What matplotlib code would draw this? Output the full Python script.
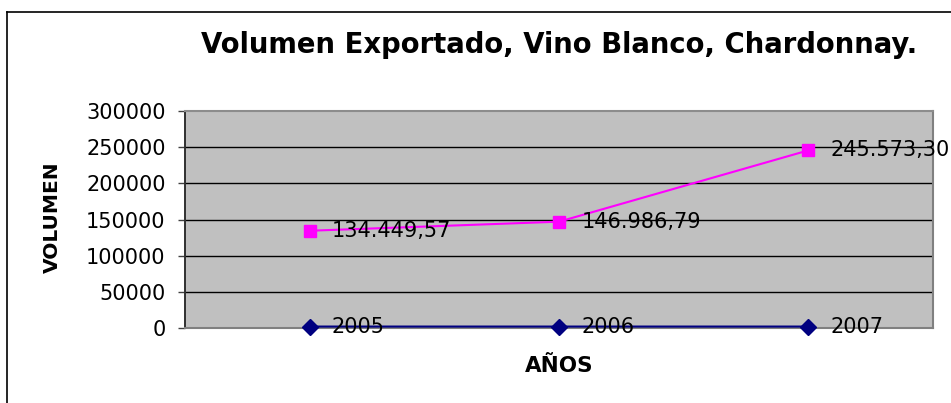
import matplotlib
matplotlib.use("Agg")
import matplotlib.pyplot as plt
from matplotlib.lines import Line2D

years = ["2005", "2006", "2007"]
serie_anios = [2005, 2006, 2007]
volumen = [134449.57, 146986.79, 245573.30]
etiquetas_volumen = ["134.449,57", "146.986,79", "245.573,30"]
y_ticks = [0, 50000, 100000, 150000, 200000, 250000, 300000]

plt.rcParams['font.family'] = ['DejaVu Sans']

fig = plt.figure(figsize=(9.51, 4.03), dpi=100)
fig.patch.set_facecolor('white')

# chart border (top and left visible)
fig.add_artist(Line2D([7/951, 7/951], [0, 1 - 12/403], transform=fig.transFigure, color='black', lw=1.2))
fig.add_artist(Line2D([7/951, 1], [1 - 12/403, 1 - 12/403], transform=fig.transFigure, color='black', lw=1.2))

ax = fig.add_axes([185/951, 1 - 328/403, (933 - 185)/951, (328 - 111)/403])
ax.set_facecolor('#C0C0C0')
x = list(range(len(years)))

for yv in y_ticks[1:-1]:
    ax.axhline(yv, color='black', lw=1.0, zorder=1)

ax.plot(x, serie_anios, color='#000080', lw=1.5, marker='D', markersize=8,
        markerfacecolor='#000080', markeredgecolor='#000080', zorder=3, clip_on=False)
ax.plot(x, volumen, color='#FF00FF', lw=1.5, marker='s', markersize=9,
        markerfacecolor='#FF00FF', markeredgecolor='#FF00FF', zorder=3, clip_on=False)

for xi, v, lab in zip(x, volumen, etiquetas_volumen):
    ax.annotate(lab, (xi, v), xytext=(16, 0), textcoords='offset points',
                ha='left', va='center', fontsize=15, color='black', zorder=4,
                annotation_clip=False)
for xi, v in zip(x, serie_anios):
    ax.annotate(str(v), (xi, v), xytext=(16, 0), textcoords='offset points',
                ha='left', va='center', fontsize=15, color='black', zorder=4,
                annotation_clip=False)

ax.set_xlim(-0.5, 2.5)
ax.set_ylim(0, 300000)
ax.set_yticks(y_ticks)
ax.set_yticklabels([str(t) for t in y_ticks], fontsize=15)
ax.set_xticks([])
ax.tick_params(axis='y', length=5, width=1, color='#404040', pad=9)

ax.spines['left'].set_color('#303030')
ax.spines['left'].set_linewidth(1.4)
ax.spines['bottom'].set_color('#808080')
ax.spines['bottom'].set_linewidth(1.5)
ax.spines['right'].set_color('#808080')
ax.spines['right'].set_linewidth(1.5)
ax.spines['top'].set_color('#8C8C8C')
ax.spines['top'].set_linewidth(1.5)

fig.text(559/951, 1 - 45/403, "Volumen Exportado, Vino Blanco, Chardonnay.",
         ha='center', va='center', fontsize=19.8, fontweight='bold')
fig.text(52/951, 1 - 217/403, "VOLUMEN", ha='center', va='center', rotation=90,
         fontsize=14.5, fontweight='bold')
fig.text(559/951, 1 - 366/403, "AÑOS", ha='center', va='center',
         fontsize=15.5, fontweight='bold')

fig.savefig("out.png", dpi=100)
